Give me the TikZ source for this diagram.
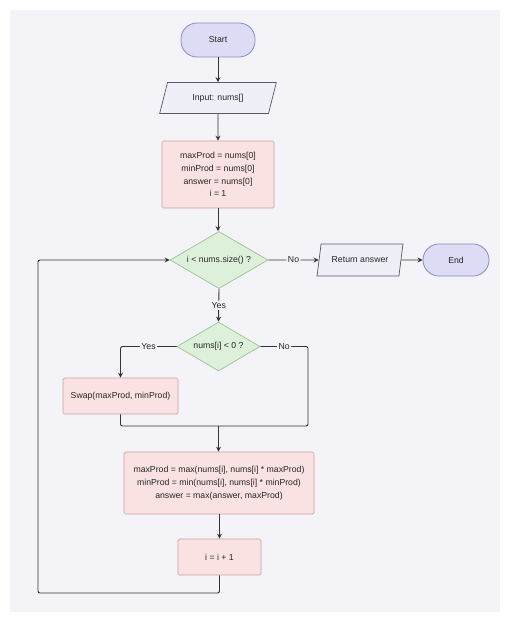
\documentclass[tikz,border=0pt]{standalone}
\usepackage{fontspec}
\setmainfont{Liberation Sans}
\usetikzlibrary{shapes.geometric,arrows.meta}
\definecolor{bgc}{HTML}{F4F3F8}
\definecolor{termfill}{HTML}{DCDCF4}
\definecolor{termdraw}{HTML}{8A8AC4}
\definecolor{iofill}{HTML}{EFEFF7}
\definecolor{iodraw}{HTML}{5A5A66}
\definecolor{procfill}{HTML}{FAE2E2}
\definecolor{procdraw}{HTML}{CFA0A0}
\definecolor{decfill}{HTML}{DDF0D9}
\definecolor{decdraw}{HTML}{98C494}
\definecolor{linec}{HTML}{333333}
\tikzset{
  every node/.style={font=\fontsize{8.7}{12.8}\selectfont, text=black!85},
  term/.style={draw=termdraw, fill=termfill, line width=0.8pt, rounded corners=16pt, inner sep=0pt, align=center},
  io/.style={draw=iodraw, fill=iofill, line width=0.7pt, shape=trapezium, trapezium left angle=64, trapezium right angle=116, trapezium stretches=true, inner sep=0pt, align=center},
  proc/.style={draw=procdraw, fill=procfill, line width=0.7pt, rounded corners=1.5pt, inner sep=0pt, align=center},
  dec/.style={draw=decdraw, fill=decfill, line width=0.7pt, shape=diamond, inner sep=0pt, align=center},
  conn/.style={draw=linec, line width=0.9pt, rounded corners=2pt},
  arr/.style={conn, -{Stealth[length=5pt,width=5pt]}},
  lbl/.style={fill=bgc, inner sep=1.5pt}
}
\begin{document}
\begin{tikzpicture}[x=1pt,y=-1pt]
\useasboundingbox (0,0) rectangle (510,621);
\fill[white] (0,0) rectangle (510,621);
\fill[bgc] (10,10) rectangle (500,612);

\node[term, minimum width=74, minimum height=34] (start) at (218,40) {Start};
\node[io, minimum width=117, minimum height=31] (inp) at (218,98) {Input: nums[]};
\node[proc, minimum width=112, minimum height=67] (init) at (218,174.5) {maxProd = nums[0]\\minProd = nums[0]\\answer = nums[0]\\i = 1};
\node[dec, aspect=1.72, minimum width=98, minimum height=57] (d1) at (219,260) {i < nums.size() ?};
\node[io, minimum width=86, minimum height=32] (ret) at (360,260) {Return answer};
\node[term, minimum width=66, minimum height=32, rounded corners=16pt] (end) at (456,260) {End};
\node[dec, aspect=1.69, minimum width=83, minimum height=49] (d2) at (218.5,346.5) {nums[i] < 0 ?};
\node[proc, minimum width=115, minimum height=36] (swap) at (120.5,396) {Swap(maxProd, minProd)};
\node[proc, minimum width=190, minimum height=62] (big) at (219,483) {maxProd = max(nums[i], nums[i] * maxProd)\\minProd = min(nums[i], nums[i] * minProd)\\answer = max(answer, maxProd)};
\node[proc, minimum width=83, minimum height=36] (inc) at (219.5,557) {i = i + 1};

\coordinate (nc) at (308,346.5);
\coordinate (m) at (218.5,426);
\coordinate (lb) at (219.5,593);
\coordinate (lc) at (38,593);
\coordinate (lt) at (38,260);

\draw[arr] (start) -- (inp);
\draw[arr] (inp) -- (init);
\draw[arr] (init.south) -- (init.south |- d1.north);
\draw[arr] (d1.east) -- node[lbl]{No} (ret.west);
\draw[arr] (ret.east) -- (end.west);
\draw[arr] (d1.south) -- node[lbl]{Yes} (d2.north);
\draw[arr] (d2.west) -- node[lbl]{Yes} (d2.west -| swap.north) -- (swap.north);
\draw[conn] (d2.east) -- node[lbl]{No} (nc) |- (m);
\draw[conn] (swap.south) |- (m);
\draw[arr] (m) -- (big.north -| m);
\draw[arr] (big.south -| inc.north) -- (inc.north);
\draw[arr] (inc.south) -- (lb) -- (lc) -- (lt) -- (d1.west);
\end{tikzpicture}
\end{document}
